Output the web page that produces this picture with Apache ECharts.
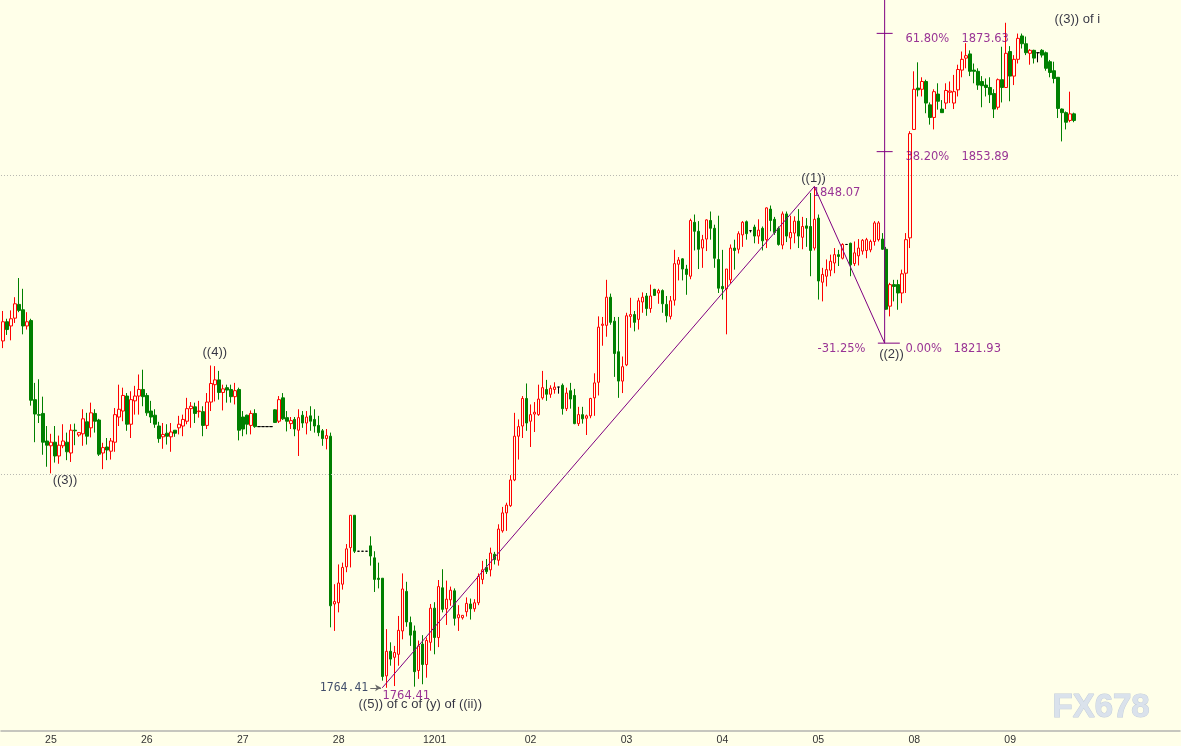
<!DOCTYPE html>
<html><head><meta charset="utf-8">
<script src="https://cdn.jsdelivr.net/npm/echarts@6/dist/echarts.min.js"></script>
<style>html,body{margin:0;padding:0;background:#FFFFE9;}#c{width:1181px;height:746px;}</style>
</head><body><div id="c"></div><script>
// ---- hourly OHLC ----
const opens = [
1822.3,1825.5,1824.8,1826.1,1828.4,1827.5,1824.8,1825.7,1812.5,1810.0,
1810.2,1805.6,1804.8,1805.4,1803.1,1804.8,1805.4,1803.6,1807.4,1806.6,
1806.8,1808.8,1807.8,1810.2,1809.1,1803.6,1804.6,1803.9,1805.4,1809.6,
1810.6,1813.1,1808.4,1812.3,1813.1,1814.2,1813.2,1810.6,1809.9,1808.1,
1806.3,1806.9,1806.3,1807.4,1807.8,1808.1,1808.9,1811.0,1811.3,1810.5,
1810.5,1808.2,1812.1,1815.0,1815.8,1813.7,1814.5,1814.2,1813.0,1814.2,
1809.6,1809.9,1808.2,1810.2,1808.0,1808.0,1808.0,1808.0,1810.8,1808.9,
1812.8,1809.5,1808.5,1809.2,1807.4,1809.9,1808.6,1809.8,1809.2,1808.2,
1807.3,1806.0,1806.4,1778.4,1778.6,1781.7,1784.6,1787.8,1793.2,1787.2,
1787.2,1787.2,1788.1,1786.1,1782.7,1782.7,1766.4,1770.5,1769.5,1770.0,
1773.9,1780.5,1775.3,1773.9,1767.3,1771.7,1768.3,1772.0,1777.7,1772.8,
1781.1,1777.6,1779.1,1780.6,1776.1,1776.1,1777.1,1778.4,1777.6,1778.6,
1782.5,1784.5,1784.1,1786.7,1785.7,1790.6,1793.6,1794.8,1799.1,1806.4,
1808.1,1812.7,1808.9,1810.1,1810.0,1812.8,1814.2,1813.4,1814.2,1814.6,
1814.9,1811.0,1814.0,1813.2,1808.5,1810.0,1809.4,1809.8,1812.8,1815.4,
1824.9,1824.9,1829.6,1825.6,1820.5,1815.6,1818.3,1826.4,1826.7,1825.9,
1828.8,1829.8,1827.7,1830.9,1830.3,1830.7,1828.4,1826.4,1829.1,1835.1,
1836.0,1834.3,1833.1,1842.1,1840.6,1837.8,1839.3,1842.4,1841.1,1835.9,
1831.4,1831.0,1832.5,1837.8,1837.6,1840.0,1842.2,1840.7,1841.3,1839.8,
1841.1,1839.2,1844.3,1842.6,1841.1,1838.3,1843.5,1839.5,1840.3,1842.3,
1839.6,1841.5,1841.4,1837.8,1842.8,1832.1,1833.1,1834.1,1835.3,1836.7,
1836.1,1838.4,1838.6,1835.2,1836.5,1837.3,1837.4,1837.5,1838.9,1839.2,
1839.3,1837.6,1828.1,1831.7,1831.7,1830.3,1833.6,1839.5,1857.6,1864.5,
1864.3,1865.6,1861.7,1859.6,1863.5,1861.0,1862.0,1863.8,1862.0,1864.2,
1867.5,1869.5,1870.2,1867.5,1867.3,1865.6,1865.0,1864.6,1863.6,1861.3,
1865.9,1864.6,1870.6,1866.5,1869.3,1873.2,1871.9,1870.3,1870.8,1870.4,
1870.8,1870.4,1868.9,1867.4,1866.3,1861.0,1860.4,1859.1,1860.2];
const closes = [
1825.5,1824.2,1826.0,1828.5,1827.4,1824.8,1825.5,1812.4,1810.1,1809.9,
1805.4,1804.9,1805.4,1803.1,1804.9,1805.6,1803.8,1807.4,1807.3,1807.0,
1809.3,1806.4,1810.3,1808.9,1803.4,1804.5,1804.1,1805.6,1810.0,1810.9,
1813.2,1808.4,1812.5,1813.1,1814.2,1813.0,1810.3,1809.6,1808.4,1806.0,
1806.7,1806.4,1807.1,1806.9,1808.4,1809.2,1811.0,1811.4,1810.2,1810.6,
1808.2,1812.1,1815.2,1815.8,1813.7,1814.3,1814.1,1813.0,1814.0,1807.4,
1807.6,1808.4,1810.2,1808.0,1808.0,1808.0,1808.0,1808.0,1808.7,1812.5,
1809.3,1808.9,1809.0,1807.6,1809.5,1808.6,1809.6,1808.9,1808.1,1807.0,
1806.0,1806.5,1778.1,1778.8,1781.9,1784.5,1787.6,1793.2,1787.2,1787.2,
1787.2,1787.2,1786.4,1782.5,1782.5,1766.3,1770.5,1769.2,1770.3,1774.0,
1780.9,1775.4,1773.2,1767.1,1771.4,1768.3,1772.3,1777.7,1772.8,1781.3,
1777.5,1779.2,1780.7,1776.0,1776.6,1776.5,1778.5,1777.6,1778.6,1783.0,
1784.1,1783.8,1786.9,1785.8,1790.9,1793.6,1794.9,1799.1,1806.4,1808.0,
1812.7,1808.6,1810.0,1810.4,1812.6,1814.5,1813.4,1814.4,1814.6,1814.6,
1811.0,1813.6,1812.6,1808.5,1810.0,1809.3,1809.8,1812.7,1815.3,1824.6,
1825.1,1829.6,1825.4,1820.2,1815.6,1818.0,1826.5,1826.7,1825.4,1829.0,
1829.6,1827.7,1829.8,1829.9,1830.7,1828.5,1826.5,1829.0,1835.2,1835.8,
1834.3,1833.4,1842.4,1840.6,1837.6,1839.2,1842.5,1841.1,1836.1,1831.1,
1831.0,1834.3,1837.8,1837.4,1840.2,1842.1,1840.2,1840.7,1839.8,1840.8,
1839.0,1844.5,1842.4,1840.4,1838.4,1843.5,1839.8,1840.4,1842.3,1839.8,
1841.4,1841.1,1837.4,1842.6,1832.3,1833.4,1834.2,1835.6,1836.7,1836.4,
1838.4,1838.4,1835.0,1837.0,1837.8,1839.1,1839.2,1838.9,1842.0,1842.0,
1837.6,1827.6,1831.7,1831.4,1830.3,1833.5,1839.2,1856.9,1864.3,1864.2,
1865.6,1862.0,1859.6,1863.9,1862.3,1860.4,1864.1,1864.0,1863.9,1867.6,
1869.3,1869.9,1867.3,1867.3,1865.0,1864.9,1864.6,1863.4,1861.0,1865.9,
1864.6,1870.3,1866.5,1869.3,1872.8,1871.9,1870.4,1870.8,1869.5,1870.4,
1870.0,1867.8,1867.1,1866.1,1861.1,1860.4,1858.8,1860.2,1859.1];
const lows = [
1821.1,1823.3,1822.4,1825.3,1827.1,1823.4,1824.2,1811.5,1805.4,1808.6,
1803.3,1801.3,1800.2,1802.0,1801.8,1804.4,1802.4,1802.1,1804.9,1806.3,
1804.8,1805.0,1806.2,1807.0,1803.1,1800.9,1802.4,1802.5,1803.8,1808.1,
1808.9,1807.3,1806.1,1810.0,1810.0,1811.4,1809.8,1808.6,1807.8,1805.3,
1804.3,1805.0,1803.8,1806.3,1806.7,1806.4,1808.4,1807.8,1808.6,1809.5,
1806.4,1807.6,1810.6,1812.2,1812.5,1810.7,1812.0,1812.0,1811.7,1805.7,
1806.4,1806.7,1806.7,1807.8,1808.0,1808.0,1808.0,1808.0,1808.6,1808.6,
1809.1,1807.2,1807.6,1806.4,1803.1,1807.8,1806.7,1807.3,1807.0,1806.4,
1804.8,1804.2,1774.5,1773.9,1777.0,1780.8,1783.7,1784.5,1786.9,1787.2,
1787.2,1787.2,1784.8,1780.4,1781.0,1765.6,1764.41,1768.1,1764.7,1768.1,
1772.5,1774.6,1771.4,1764.6,1765.9,1765.0,1766.1,1770.6,1770.0,1771.2,
1777.0,1774.9,1778.1,1774.8,1773.9,1775.8,1776.3,1775.8,1777.1,1778.2,
1781.7,1783.4,1783.0,1785.0,1784.8,1790.3,1790.6,1794.6,1798.9,1802.5,
1806.1,1807.3,1804.6,1807.1,1809.8,1812.5,1812.3,1812.8,1813.5,1813.5,
1810.0,1810.6,1811.0,1808.4,1808.1,1808.5,1806.6,1809.4,1809.8,1813.2,
1821.5,1823.0,1825.0,1816.3,1812.8,1813.6,1818.1,1824.5,1823.9,1824.2,
1827.0,1826.5,1827.0,1829.8,1828.5,1827.0,1825.4,1825.9,1828.2,1832.4,
1832.4,1830.0,1832.6,1837.4,1834.3,1834.5,1837.3,1839.2,1834.5,1830.3,
1829.2,1823.4,1831.9,1834.2,1836.9,1838.0,1839.2,1840.4,1838.6,1838.5,
1837.4,1837.8,1840.6,1840.0,1838.2,1837.6,1838.8,1837.6,1838.6,1837.8,
1837.6,1838.0,1833.1,1837.4,1829.2,1828.9,1831.4,1833.1,1833.6,1834.8,
1835.9,1838.4,1833.1,1834.8,1834.9,1836.7,1836.1,1837.1,1838.2,1838.9,
1837.5,1827.5,1826.4,1828.9,1827.5,1828.6,1830.3,1837.8,1857.5,1863.1,
1863.1,1860.3,1858.4,1857.6,1860.9,1860.4,1861.0,1862.0,1861.0,1863.1,
1866.3,1867.8,1866.5,1865.3,1864.2,1861.3,1863.1,1862.0,1859.5,1860.9,
1862.1,1864.6,1862.3,1865.0,1868.6,1871.1,1870.0,1868.4,1868.6,1868.8,
1869.6,1867.4,1866.3,1865.3,1859.5,1855.6,1857.6,1858.8,1858.8];
const highs = [
1827.3,1826.0,1827.4,1829.6,1832.8,1831.0,1827.1,1826.0,1815.3,1815.9,
1813.0,1808.1,1806.8,1808.1,1806.5,1808.4,1807.0,1808.4,1808.5,1807.1,
1810.9,1810.3,1812.0,1810.9,1809.3,1805.3,1806.1,1806.1,1811.1,1815.0,
1814.5,1813.6,1813.9,1814.8,1816.7,1817.5,1813.6,1812.3,1810.9,1808.8,
1808.6,1808.4,1808.6,1807.4,1809.8,1810.0,1812.8,1812.1,1812.0,1812.3,
1811.4,1813.6,1818.2,1818.1,1817.3,1815.0,1815.0,1815.0,1815.3,1814.5,
1810.6,1810.0,1810.7,1810.9,1808.0,1808.0,1808.0,1808.0,1810.9,1813.1,
1813.6,1810.6,1809.6,1809.6,1810.9,1810.6,1810.6,1811.4,1810.9,1809.8,
1807.6,1807.6,1807.0,1781.7,1785.0,1785.3,1788.4,1793.2,1793.2,1787.2,
1787.2,1787.2,1789.7,1787.2,1785.3,1782.7,1774.2,1772.0,1771.4,1776.4,
1783.5,1782.1,1776.3,1774.8,1772.3,1773.2,1772.8,1778.4,1778.7,1782.4,
1784.2,1782.3,1781.3,1781.0,1778.2,1776.5,1779.5,1779.3,1779.2,1783.5,
1785.6,1785.9,1787.8,1787.1,1791.7,1794.6,1795.3,1799.9,1810.3,1809.2,
1813.1,1815.2,1811.7,1812.1,1815.0,1817.3,1815.8,1814.9,1815.4,1814.6,
1815.2,1814.5,1815.3,1814.3,1811.3,1811.3,1810.0,1812.8,1816.9,1826.4,
1826.3,1832.5,1830.2,1826.3,1826.3,1819.7,1827.0,1829.5,1827.3,1829.5,
1830.4,1830.3,1831.7,1831.0,1831.0,1830.9,1829.8,1829.8,1837.5,1836.3,
1836.1,1835.0,1842.7,1843.4,1842.3,1840.0,1842.6,1843.9,1841.7,1843.2,
1837.5,1834.3,1838.4,1839.2,1840.6,1842.3,1842.4,1840.7,1841.7,1842.6,
1841.4,1844.6,1844.9,1843.0,1841.4,1843.9,1843.9,1843.2,1843.1,1844.3,
1843.0,1842.8,1847.0,1848.07,1843.4,1834.5,1835.9,1836.7,1837.8,1837.5,
1838.6,1838.4,1838.7,1838.9,1839.3,1839.3,1839.5,1839.2,1842.3,1842.3,
1840.3,1838.0,1832.0,1832.5,1832.5,1834.2,1840.3,1857.3,1867.3,1868.8,
1866.3,1865.9,1862.1,1864.3,1865.3,1862.5,1865.3,1865.6,1866.7,1868.4,
1870.6,1872.0,1870.8,1868.6,1867.8,1866.5,1866.1,1866.3,1864.3,1866.1,
1871.4,1875.4,1871.5,1870.0,1873.6,1873.6,1873.1,1871.0,1870.9,1870.4,
1871.0,1870.6,1869.2,1868.9,1866.3,1861.1,1860.6,1863.9,1860.4];

// ---- axis ticks ----
const tickLabels = ['25','26','27','28','1201','02','03','04','05','08','09'];
const tickBars   = [12,36,60,84,108,132,156,180,204,228,252];
const slotCount  = 295;            // hourly slots across the window
const priceTop = 1879.2, priceBottom = 1757.2;
const gridPrices = [1800, 1850];

// ---- wave analysis annotations (bar index, price) ----
const wavePath = [[94.9, 1764.41], [203, 1848.07], [220.6, 1821.93]];
const fibLevels = [
  {pct: '61.80%', price: 1873.63},
  {pct: '38.20%', price: 1853.89},
  {pct: '0.00%',  price: 1821.93}
];
const waveLabels = [
  {text: '((3))', bar: 15.5, price: 1799.0},
  {text: '((4))', bar: 53.0, price: 1820.4},
  {text: '((1))', bar: 202.8, price: 1849.5},
  {text: '((2))', bar: 222.3, price: 1820.0},
  {text: '((3)) of i', bar: 268.8, price: 1875.9},
  {text: '((5)) of c of (y) of ((ii))', bar: 104.4, price: 1761.7}
];
const priceNotes = [
  {text: '1848.07', bar: 202.6, price: 1847.0, align: 'left'},
  {text: '1764.41', bar: 100.9, price: 1763.0, align: 'center'},
  {text: '-31.25%', bar: 209.8, price: 1820.9, align: 'center'}
];

const categories = [];
const labelAt = {};
tickBars.forEach((b, k) => labelAt[b] = tickLabels[k]);
for (let i = 0; i < slotCount; i++) categories.push('s' + i);
const candles = opens.map((o, i) => [o, closes[i], lows[i], highs[i]]);

const PURPLE = '#800080';
const FONT = 'Tahoma, "DejaVu Sans", sans-serif';

function textPoint(x, y, text, color, align, font, size) {
  return {
    value: [x, y],
    label: {
      show: true, formatter: text, position: [0, 0], align: align || 'center',
      verticalAlign: 'middle', color: color, fontFamily: font || FONT, fontSize: size || 11.5
    }
  };
}
const texts = [];
waveLabels.forEach(w => texts.push(textPoint(w.bar, w.price, w.text, '#000018',
  'center', '"Liberation Sans", Arial, sans-serif', 13)));
priceNotes.forEach(n => texts.push(textPoint(n.bar, n.price, n.text, PURPLE, n.align)));
texts.push(textPoint(91.4, 1764.4, '1764.41', '#10204a', 'right', '"DejaVu Sans Mono", monospace', 11.5));
fibLevels.forEach(f => {
  texts.push(textPoint(225.8, f.price - 0.9, f.pct, PURPLE, 'left'));
  texts.push(textPoint(f.pct === '0.00%' ? 237.8 : 239.8, f.price - 0.9, f.price.toFixed(2), PURPLE, 'left'));
});

const lineStyle = {color: PURPLE, width: 1};
const series = [{
  type: 'candlestick', xAxisIndex: 0, yAxisIndex: 0, data: candles, barWidth: 3,
  itemStyle: {color: '#FFFFE9', color0: '#008000', borderColor: '#FF0000', borderColor0: '#008000',
              borderColorDoji: '#000000', borderWidth: 1},
  markLine: {silent: true, symbol: 'none', label: {show: false},
    lineStyle: {color: '#b8b8b0', type: [1, 2], width: 1},
    data: gridPrices.map(p => ({yAxis: p}))}
}, {
  type: 'line', xAxisIndex: 1, yAxisIndex: 0, data: wavePath, symbol: 'none', lineStyle: lineStyle, silent: true
}, {
  type: 'line', xAxisIndex: 1, yAxisIndex: 0, data: [[wavePath[2][0], priceTop], wavePath[2]],
  symbol: 'none', lineStyle: lineStyle, silent: true
}];
fibLevels.forEach(f => {
  const w = f.pct === '0.00%' ? [218.9, 224.4] : [218.6, 222.6];
  series.push({type: 'line', xAxisIndex: 1, yAxisIndex: 0, data: [[w[0], f.price], [w[1], f.price]],
    symbol: 'none', lineStyle: lineStyle, silent: true});
});
series.push({
  type: 'scatter', xAxisIndex: 1, yAxisIndex: 0, symbolSize: 0, data: texts, silent: true, clip: false,
  markLine: {silent: true, symbol: ['none', 'arrow'], symbolSize: [5, 6], label: {show: false},
    lineStyle: {color: '#6a6a6a', width: 1, type: 'solid'},
    data: [[{coord: [91.9, 1764.41]}, {coord: [94.6, 1764.41]}]]}
});

const chart = echarts.init(document.getElementById('c'));
chart.setOption({
  animation: false,
  backgroundColor: '#FFFFE9',
  grid: {left: -1, right: 1, top: 0, bottom: 14},
  xAxis: [{
    type: 'category', data: categories, boundaryGap: true,
    axisLine: {lineStyle: {color: '#b4b4b0', width: 1.5}},
    axisTick: {show: false},
    axisLabel: {interval: 0, margin: 4, color: '#333', fontSize: 10.5, fontFamily: '"Liberation Sans", Arial, sans-serif',
      formatter: (v, i) => labelAt[i] || ''},
    splitLine: {show: false}
  }, {
    type: 'value', min: -0.5, max: slotCount - 0.5, show: false
  }],
  yAxis: {type: 'value', min: priceBottom, max: priceTop, show: false, splitLine: {show: false}},
  graphic: [{
    type: 'text', left: 1052, top: 691, silent: true,
    style: {text: 'FX678', font: 'bold 33px "Liberation Sans", Arial, sans-serif',
      fill: '#dae2ec', stroke: '#c4cedb', lineWidth: 1}
  }],
  series: series
});
</script></body></html>
